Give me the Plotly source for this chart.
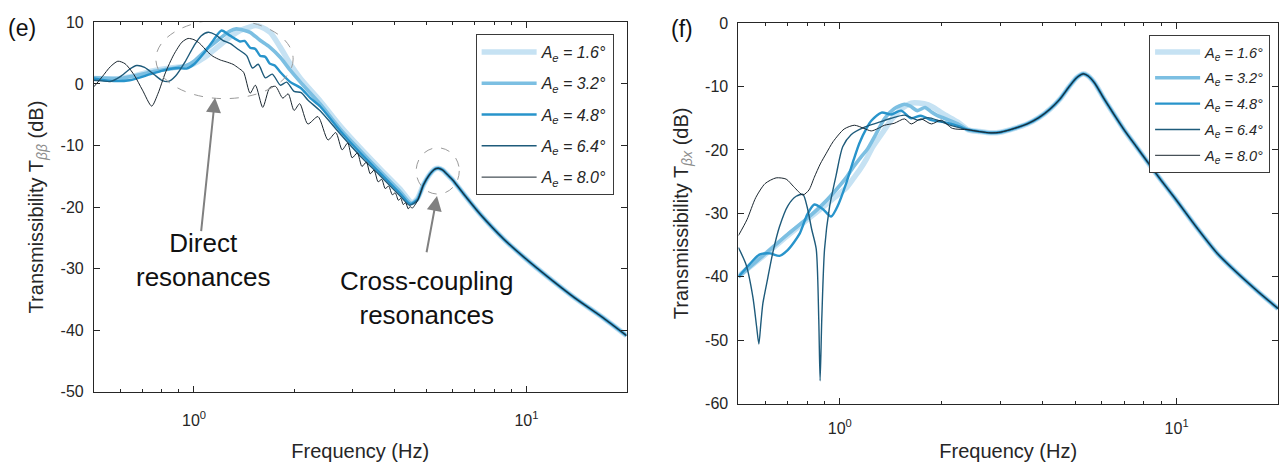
import math
import plotly.graph_objects as go

# ------------------------------------------------------------------ data ----
amplitudes = ["1.6", "3.2", "4.8", "6.4", "8.0"]
line_colors = ["#c6e2f3", "#7cbfe2", "#2894cb", "#1e5b7b", "#1a262f"]
line_widths = [5.5, 3.6, 2.4, 1.4, 1.0]

# (e) rotational transmissibility T_bb, low/mid-frequency part of each curve
e_f_16 = [0.5, 0.6, 0.66, 0.75, 0.85, 0.95, 1.0, 1.06, 1.117, 1.197, 1.283, 1.376, 1.475, 1.53,
          1.58, 1.694, 1.816, 1.95, 2.09, 2.4, 2.75, 3.16, 3.63, 4.17, 4.52, 4.7]
e_db_16 = [0.9, 0.9, 1.3, 2.1, 2.6, 2.9, 3.3, 4.1, 5.0, 6.3, 7.65, 8.7, 9.3, 9.5,
           9.35, 8.4, 6.0, 3.2, 0.9, -2.8, -6.8, -10.4, -13.8, -17.1, -19.25, -18.6]

e_f_32 = [0.5, 0.6, 0.66, 0.75, 0.85, 0.95, 1.0, 1.117, 1.197, 1.283, 1.34, 1.42, 1.475, 1.58,
          1.69, 1.82, 1.95, 2.09, 2.4, 2.75, 3.16, 3.63, 4.17, 4.5, 4.7]
e_db_32 = [1.0, 0.9, 1.3, 2.0, 2.5, 3.0, 3.7, 6.1, 7.4, 8.6, 8.95, 8.7, 8.4, 7.1,
           6.0, 4.3, 2.2, 0.3, -3.3, -7.3, -10.8, -14.2, -17.5, -19.4, -18.7]

e_f_48 = [0.5, 0.56, 0.64, 0.74, 0.82, 0.9, 0.95, 1.0, 1.07, 1.14, 1.21, 1.28, 1.376, 1.42,
          1.475, 1.53, 1.58, 1.64, 1.69, 1.75, 1.82, 1.95, 2.09, 2.24, 2.4, 2.75, 3.16,
          3.63, 4.17, 4.47, 4.7]
e_db_48 = [0.9, 0.5, 0.6, 1.6, 2.3, 2.6, 2.5, 3.2, 5.0, 7.0, 8.7, 7.9, 6.9, 7.0,
           5.9, 5.7, 4.6, 4.4, 3.3, 3.0, 1.9, 0.3, -0.6, -2.3, -3.7, -7.6, -11.2,
           -14.5, -17.8, -19.5, -18.8]

e_f_64 = [0.5, 0.53, 0.56, 0.6, 0.64, 0.672, 0.71, 0.76, 0.8, 0.837, 0.88, 0.94, 1.0, 1.05,
          1.104, 1.16, 1.22, 1.283, 1.36, 1.44, 1.5, 1.56, 1.64, 1.72, 1.82, 1.9, 2.0,
          2.1, 2.2, 2.4, 2.75, 3.16, 3.63, 4.17, 4.45, 4.7]
e_db_64 = [0.6, 0.5, 0.4, 1.2, 2.4, 3.0, 2.7, 1.5, 0.6, 0.4, 1.3, 3.6, 6.2, 7.8,
           8.4, 8.0, 7.1, 6.6, 5.6, 4.6, 2.6, 3.2, 1.0, 1.6, -0.2, 0.3, -1.2,
           -1.4, -2.6, -4.4, -8.1, -11.7, -14.9, -18.2, -19.7, -18.9]

e_f_80 = [0.5, 0.53, 0.56, 0.59, 0.62, 0.66, 0.7, 0.746, 0.78, 0.82, 0.87, 0.92, 0.96, 1.0,
          1.04, 1.1, 1.14, 1.2, 1.25, 1.31, 1.36, 1.41, 1.475, 1.53, 1.61, 1.69, 1.76,
          1.85, 1.92, 2.0, 2.08, 2.2, 2.36, 2.53, 2.67, 2.79, 2.9, 2.99, 3.1, 3.2, 3.3,
          3.39, 3.48, 3.58, 3.67, 3.76, 3.85, 3.95, 4.03, 4.12, 4.19, 4.26, 4.33, 4.41,
          4.47, 4.53, 4.7]
e_db_80 = [-0.45, 1.2, 2.8, 3.7, 3.3, 1.5, -1.0, -3.6, -1.5, 1.8, 4.8, 6.8, 7.4, 7.2,
           6.6, 5.2, 4.5, 3.9, 3.6, 3.2, 2.6, 1.9, -1.5, -0.2, -3.8, -0.6, -0.4,
           -2.3, -1.6, -4.3, -3.2, -6.5, -5.3, -9.1, -7.9, -10.7, -9.6, -12.0, -11.2, -13.4, -12.7,
           -14.6, -14.0, -15.9, -15.5, -17.0, -16.6, -18.0, -17.7, -18.9, -18.6, -19.6, -19.3, -20.3,
           -19.9, -20.2, -19.0]

# (e) common part, where all curves coincide (cross-coupling resonance and roll-off)
e_tail_f = [4.9, 5.1, 5.3, 5.43, 5.6, 5.8, 6.0, 6.5, 7.27, 8.54, 10, 12, 14, 17, 20]
e_tail_db = [-16.4, -14.8, -13.85, -13.7, -14.0, -14.8, -15.6, -18.0, -21.2, -25.2, -28.5,
             -32.0, -34.8, -38.0, -40.9]

# (f) cross transmissibility T_bx, low-frequency part of each curve
f_f_16 = [0.5, 0.6, 0.7, 0.8, 0.9, 1.0, 1.044, 1.1, 1.15, 1.2, 1.25, 1.35, 1.42, 1.5,
          1.556, 1.63, 1.72, 1.83, 1.95, 2.04, 2.24]
f_db_16 = [-39.9, -36.5, -33.5, -31.0, -28.8, -26.8, -26.0, -24.4, -23.0, -21.4, -19.6, -17.0,
           -15.3, -13.9, -13.2, -12.6, -12.6, -12.9, -13.7, -14.4, -15.6]

f_f_32 = [0.5, 0.6, 0.7, 0.8, 0.9, 1.0, 1.05, 1.1, 1.16, 1.21, 1.28, 1.36, 1.45, 1.556,
          1.62, 1.7, 1.79, 1.87, 1.95, 2.04, 2.24]
f_db_32 = [-40.0, -36.4, -33.3, -30.8, -28.3, -25.6, -24.2, -22.6, -21.0, -19.8, -17.5, -15.0,
           -13.5, -12.8, -13.1, -13.8, -13.3, -14.0, -14.6, -15.0, -15.9]

f_f_48 = [0.5, 0.54, 0.577, 0.62, 0.662, 0.7, 0.76, 0.8, 0.84, 0.89, 0.942, 0.99, 1.044,
          1.1, 1.144, 1.2, 1.24, 1.33, 1.42, 1.52, 1.63, 1.74, 1.87, 2.04, 2.24]
f_db_48 = [-40.0, -38.0, -36.5, -36.3, -36.7, -35.8, -33.2, -30.2, -28.6, -29.3, -30.5, -28.6,
           -25.3, -21.5, -18.9, -16.6, -15.4, -14.1, -14.4, -13.8, -15.0, -14.6, -15.3, -15.6, -16.2]

f_f_64 = [0.5, 0.527, 0.552, 0.566, 0.575, 0.583, 0.591, 0.611, 0.633, 0.662, 0.701, 0.742,
          0.777, 0.8, 0.825, 0.851, 0.866, 0.874, 0.884, 0.901, 0.932, 0.975, 1.02, 1.08,
          1.184, 1.297, 1.42, 1.556, 1.704, 1.825, 1.95, 2.1]
f_db_64 = [-35.4, -38.1, -43.2, -47.8, -50.6, -47.3, -44.2, -40.2, -36.1, -32.1, -28.8, -27.3,
           -27.0, -29.0, -32.5, -35.6, -46.7, -56.4, -46.7, -35.6, -29.0, -24.0, -19.5, -17.6,
           -16.4, -15.7, -15.0, -14.5, -15.3, -14.9, -15.3, -16.0]

f_f_80 = [0.5, 0.53, 0.563, 0.6, 0.647, 0.693, 0.73, 0.777, 0.81, 0.84, 0.875, 0.91, 0.955,
          1.03, 1.105, 1.18, 1.24, 1.3, 1.357, 1.45, 1.556, 1.63, 1.74, 1.87, 2.0, 2.16]
f_db_80 = [-33.5, -31.0, -27.5, -25.3, -24.4, -24.6, -25.8, -27.1, -26.3, -24.3, -22.2, -20.6,
           -18.7, -16.7, -16.1, -16.6, -17.0, -16.6, -16.1, -15.8, -15.1, -15.9, -15.1, -15.9,
           -15.3, -16.6]

# (f) common part, where all curves coincide
f_tail_f = [2.4, 2.6, 2.81, 3.0, 3.3, 3.6, 3.9, 4.2, 4.5, 4.8, 5.05, 5.28, 5.45, 5.7, 6.1,
            6.5, 7.0, 7.6, 8.2, 9.0, 9.85, 11.5, 13.2, 15, 17.5, 20]
f_tail_db = [-16.8, -17.1, -17.3, -17.2, -16.6, -15.9, -14.9, -13.6, -12.0, -10.0, -8.6, -8.0,
             -8.3, -9.4, -12.0, -14.3, -16.9, -19.5, -21.9, -24.8, -27.5, -32.3, -36.3, -39.2,
             -42.4, -45.0]

e_yticks = [-50, -40, -30, -20, -10, 0, 10]
f_yticks = [-60, -50, -40, -30, -20, -10, 0]
x_major = [1, 10]
x_major_text = ["10<sup>0</sup>", "10<sup>1</sup>"]
x_minor = [0.5, 0.6, 0.7, 0.8, 0.9, 2, 3, 4, 5, 6, 7, 8, 9, 20]

# ---------------------------------------------------------------- style ----
FONT = "Liberation Sans"
INK = "#262626"
W, H = 1279, 470

e_series = [(e_f_16, e_db_16), (e_f_32, e_db_32), (e_f_48, e_db_48),
            (e_f_64, e_db_64), (e_f_80, e_db_80)]
f_series = [(f_f_16, f_db_16), (f_f_32, f_db_32), (f_f_48, f_db_48),
            (f_f_64, f_db_64), (f_f_80, f_db_80)]

fig = go.Figure()


def legend_label(a):
    return f"<i>A<sub>e</sub> = {a}°</i>"


for i, (fx, fy) in enumerate(e_series):
    fig.add_trace(go.Scatter(
        x=fx + e_tail_f, y=fy + e_tail_db, mode="lines",
        line=dict(color=line_colors[i], width=line_widths[i], shape="spline", smoothing=0.7),
        name=legend_label(amplitudes[i]), legend="legend", legendgroup=f"e{i}",
        xaxis="x", yaxis="y"))

for i, (fx, fy) in enumerate(f_series):
    fig.add_trace(go.Scatter(
        x=fx + f_tail_f, y=fy + f_tail_db, mode="lines",
        line=dict(color=line_colors[i], width=line_widths[i], shape="spline", smoothing=0.7),
        name=legend_label(amplitudes[i]), legend="legend2", legendgroup=f"f{i}",
        xaxis="x2", yaxis="y2"))


def xaxis_style(domain, anchor, label_gap, title_gap):
    return dict(
        type="log", range=[math.log10(0.5), math.log10(20)], domain=domain, anchor=anchor,
        showline=True, linecolor=INK, linewidth=1, mirror="ticks",
        ticks="inside", ticklen=6, tickcolor=INK, tickwidth=1,
        tickmode="array", tickvals=x_major, ticktext=x_major_text,
        minor=dict(tickmode="array", tickvals=x_minor, ticks="inside", ticklen=3,
                   tickcolor=INK, showgrid=False),
        showgrid=False, zeroline=False,
        tickfont=dict(family=FONT, size=16, color=INK), ticklabelstandoff=label_gap,
        title=dict(text="Frequency (Hz)", font=dict(family=FONT, size=20, color=INK),
                   standoff=title_gap),
    )


def yaxis_style(domain, anchor, rng, ticks, title):
    return dict(
        range=rng, domain=domain, anchor=anchor,
        showline=True, linecolor=INK, linewidth=1, mirror="ticks",
        ticks="inside", ticklen=6, tickcolor=INK, tickwidth=1,
        tickmode="array", tickvals=ticks, ticktext=[str(t) for t in ticks],
        showgrid=False, zeroline=False,
        tickfont=dict(family=FONT, size=16, color=INK), ticklabelstandoff=6,
        title=dict(text=title, font=dict(family=FONT, size=20, color=INK), standoff=11),
    )


sub_style = "color:#8c8c8c"
fig.update_layout(
    width=W, height=H, margin=dict(l=0, r=0, t=0, b=0),
    paper_bgcolor="white", plot_bgcolor="white",
    xaxis=xaxis_style([94 / W, 627 / W], "y", 14, 16),
    yaxis=yaxis_style([72 / H, 455 / H], "x", [-50, 10], e_yticks,
                      f"Transmissibility T<sub><span style='{sub_style}'><i>ββ</i></span></sub> (dB)"),
    xaxis2=xaxis_style([739 / W, 1.0], "y2", 10, 8),
    yaxis2=yaxis_style([59.5 / H, 454.3 / H], "x2", [-60, 0], f_yticks,
                       f"Transmissibility T<sub><span style='{sub_style}'><i>βx</i></span></sub> (dB)"),
    legend=dict(x=476 / W, y=1 - 27 / H, xanchor="left", yanchor="top",
                bordercolor="#3a3a3a", borderwidth=1, bgcolor="white",
                font=dict(family=FONT, size=16, color=INK), itemwidth=55,
                traceorder="grouped", tracegroupgap=7.5),
    legend2=dict(x=1150 / W, y=1 - 28 / H, xanchor="left", yanchor="top",
                 bordercolor="#3a3a3a", borderwidth=1, bgcolor="white",
                 font=dict(family=FONT, size=14.5, color=INK), itemwidth=45,
                 traceorder="grouped", tracegroupgap=4),
    showlegend=True,
)

# dashed outlines around the two resonance regions of panel (e)
fig.add_shape(type="circle", xref="x", yref="y", x0=0.768, x1=1.987, y0=-2.38, y1=10.47,
              line=dict(color="#9a9a9a", width=1, dash="dash"))
fig.add_shape(type="circle", xref="x", yref="y", x0=4.66, x1=6.28, y0=-17.89, y1=-10.37,
              line=dict(color="#9a9a9a", width=1, dash="dash"))

# arrows from the captions to the outlined regions (log10 positions on the x axis)
ARROW = "#808080"
fig.add_annotation(x=0.0633, y=-2.22, ax=0.0211, ay=-24.15, xref="x", yref="y",
                   axref="x", ayref="y", text="", showarrow=True, arrowhead=2,
                   arrowsize=1.5, arrowwidth=2, arrowcolor=ARROW, standoff=0)
fig.add_annotation(x=0.731, y=-18.2, ax=0.6988, ay=-27.6, xref="x", yref="y",
                   axref="x", ayref="y", text="", showarrow=True, arrowhead=2,
                   arrowsize=1.5, arrowwidth=2, arrowcolor=ARROW, standoff=0)

fig.add_annotation(x=0.0271, y=-28.6, xref="x", yref="y", text="Direct<br>resonances",
                   showarrow=False, font=dict(family=FONT, size=26, color="#111111"),
                   xanchor="center", yanchor="middle")
fig.add_annotation(x=0.6988, y=-34.8, xref="x", yref="y",
                   text="Cross-coupling<br>resonances", showarrow=False,
                   font=dict(family=FONT, size=26, color="#111111"),
                   xanchor="center", yanchor="middle")

# panel letters
fig.add_annotation(x=22 / W, y=1 - 21 / H, xref="paper", yref="paper", text="(e)",
                   showarrow=False, font=dict(family=FONT, size=23, color="#111111"),
                   xanchor="center", yanchor="middle")
fig.add_annotation(x=682.5 / W, y=1 - 21.5 / H, xref="paper", yref="paper", text="(f)",
                   showarrow=False, font=dict(family=FONT, size=23, color="#111111"),
                   xanchor="center", yanchor="middle")

fig.write_html("out.html")
